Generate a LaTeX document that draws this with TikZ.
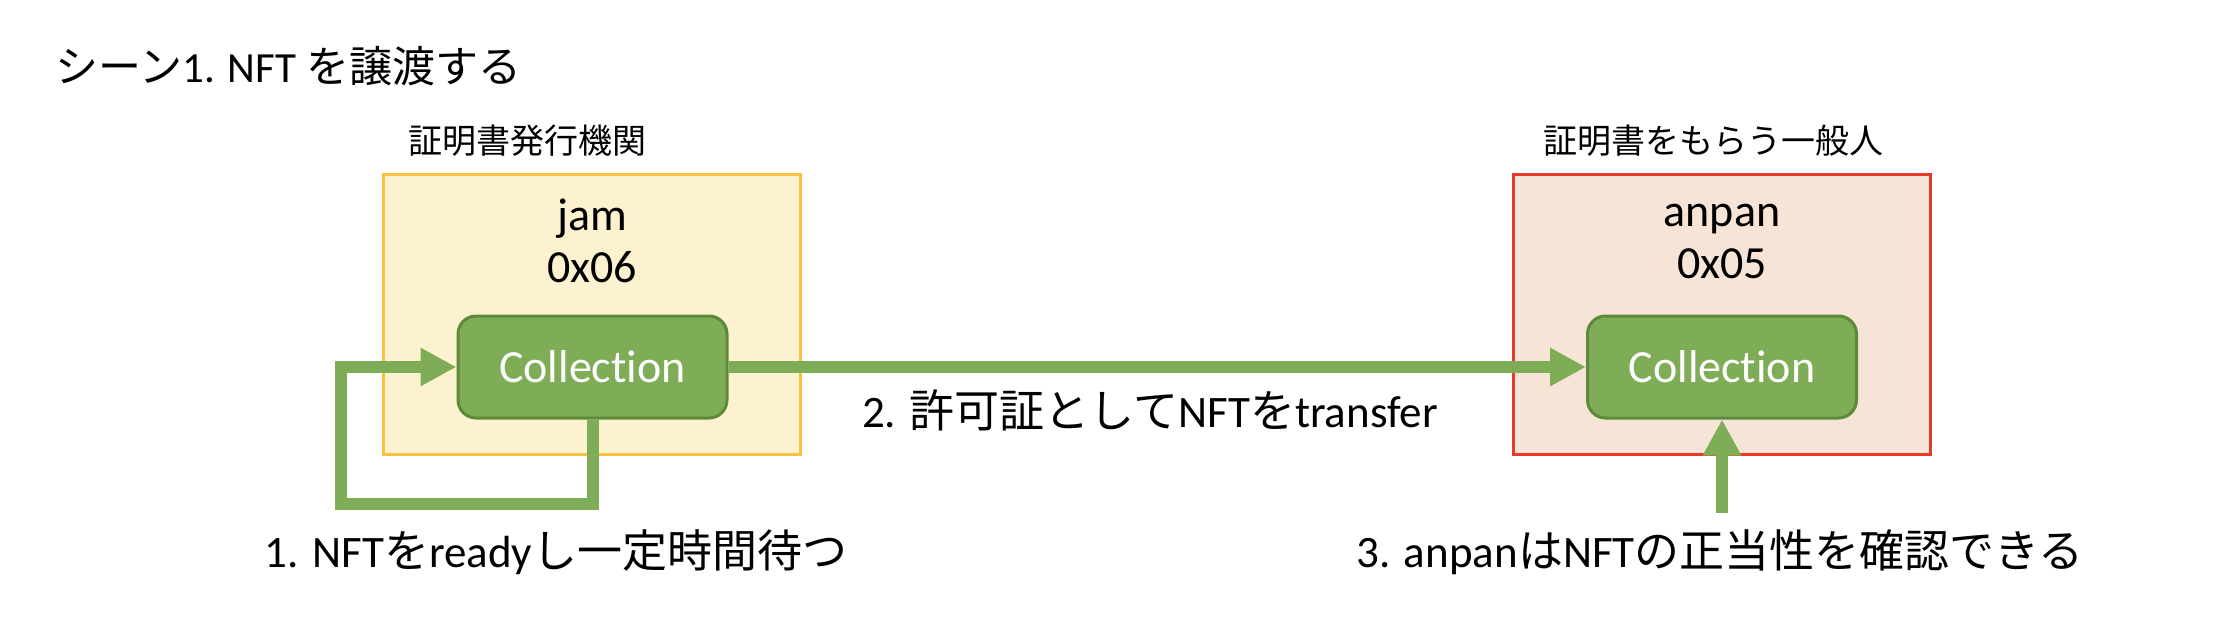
\documentclass[tikz,border=0pt]{standalone}
\usepackage{fontspec}
\setmainfont{Carlito}[Ligatures=NoCommon]
\newfontfamily\jp{Noto Sans CJK JP}
\usetikzlibrary{arrows.meta}

\definecolor{jamfill}{HTML}{FDF2D0}
\definecolor{jamline}{HTML}{F5C244}
\definecolor{anpanfill}{HTML}{F6E4D7}
\definecolor{anpanline}{HTML}{E8392A}
\definecolor{collfill}{HTML}{7FAC56}
\definecolor{collline}{HTML}{5B8A38}

\begin{document}
\begin{tikzpicture}[x=1pt,y=-1pt,
  holder/.style={draw,line width=3pt,minimum width=417pt,minimum height=280pt,inner sep=0pt},
  coll/.style={draw=collline,fill=collfill,line width=3pt,rounded corners=18pt,
    minimum width=269pt,minimum height=102pt,text=white,font=\fontsize{46}{52}\selectfont},
  flow/.style={draw=collfill,line width=12pt,line join=miter,-{Triangle[length=36pt,width=36pt]}},
  role/.style={font=\jp\fontsize{34}{40}\selectfont},
  note/.style={font=\fontsize{45}{50}\selectfont}]

\useasboundingbox (0,0) rectangle (2218,642);

\node[anchor=west,font=\fontsize{43}{50}\selectfont] (title) at (52,66) {{\jp シーン}1. NFT {\jp を譲渡する}};

\node[holder,draw=jamline,fill=jamfill] (jam) at (591.5,314) {};
\node[holder,draw=anpanline,fill=anpanfill] (anpan) at (1722,314) {};

\node[role] (issuer) at (527,141) {証明書発行機関};
\node[role] (holder) at (1713,141) {証明書をもらう一般人};

\node[align=center,font=\fontsize{46}{52}\selectfont] (jamid) at (592,241) {jam\\0x06};
\node[align=center,font=\fontsize{46}{52}\selectfont] (anpanid) at (1722,241) {anpan\\0x05};

\node[coll] (cA) at (592.5,367) {Collection};
\node[coll] (cB) at (1722,367) {Collection};

% 1. ready
\draw[flow] (cA.south) |- ++(-252,84) |- (cA.west);
% 2. transfer
\draw[flow] (cA.east) -- (cB.west);
% 3. check
\coordinate (chk) at (1722,513);
\draw[flow] (chk) -- (cB.south);

\node[note] (n1) at (556,552) {1. NFT{\jp を}ready{\jp し一定時間待つ}};
\node[note] (n2) at (1150,410) {2. {\jp 許可証として}NFT{\jp を}transfer};
\node[note] (n3) at (1720,552) {3. anpan{\jp は}NFT{\jp の正当性を確認できる}};

\end{tikzpicture}
\end{document}
